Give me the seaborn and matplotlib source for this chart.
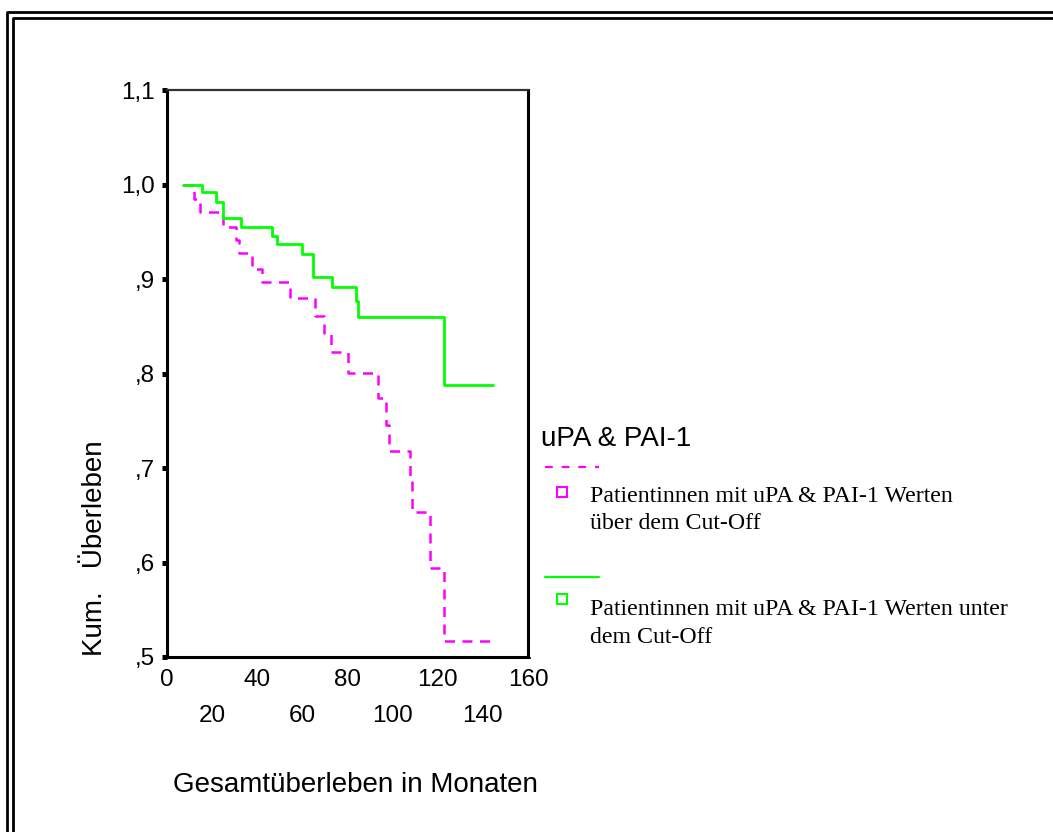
import pandas as pd
import matplotlib
matplotlib.use("Agg")
import matplotlib.pyplot as plt
from matplotlib.lines import Line2D
import seaborn as sns

# === DATA ===
months_ueber = [7, 12, 14.6, 25, 30.6, 32.1, 37.5, 41.9, 54.5, 65.8, 69.4,
                72.9, 80.3, 93.3, 97, 98.5, 107.7, 108.4, 116.6, 122.8, 143.2]
surv_ueber = [1.0, 0.985, 0.971, 0.955, 0.941, 0.928, 0.911, 0.897, 0.880,
              0.861, 0.843, 0.823, 0.801, 0.774, 0.745, 0.718, 0.685, 0.653,
              0.594, 0.517, 0.517]

months_unter = [7, 15.5, 21.6, 24.9, 33, 46.4, 48.9, 59.7, 64.8, 73, 83.8,
                84.7, 122.8, 144.6]
surv_unter = [1.0, 0.992, 0.981, 0.965, 0.955, 0.946, 0.937, 0.926, 0.902,
              0.892, 0.877, 0.860, 0.788, 0.788]

yticks = [0.5, 0.6, 0.7, 0.8, 0.9, 1.0, 1.1]
ytick_labels = [",5", ",6", ",7", ",8", ",9", "1,0", "1,1"]
xticks_row1 = [0, 40, 80, 120, 160]
xticks_row2 = [20, 60, 100, 140]

legend_title = "uPA & PAI-1"
lines_ueber = ["Patientinnen mit uPA & PAI-1 Werten", "über dem Cut-Off"]
lines_unter = ["Patientinnen mit uPA & PAI-1 Werten unter", "dem Cut-Off"]

df = pd.concat([
    pd.DataFrame({"Monate": months_ueber, "Ueberleben": surv_ueber, "Gruppe": "ueber"}),
    pd.DataFrame({"Monate": months_unter, "Ueberleben": surv_unter, "Gruppe": "unter"}),
])

PINK = "#ff00ff"
GREEN = "#00ff00"

sns.set_style("white")
plt.rcParams["font.family"] = ["Liberation Sans", "DejaVu Sans"]
for key in ["text.color", "axes.labelcolor", "xtick.color", "ytick.color"]:
    plt.rcParams[key] = "black"

W, H = 1053, 832
fig = plt.figure(figsize=(W / 100, H / 100), dpi=100)
ax = fig.add_axes([167 / W, 1 - 657 / H, 361 / W, 567 / H])


def px(x, y):
    return x / W, 1 - y / H


# === CURVES ===
sns.lineplot(data=df[df["Gruppe"] == "ueber"], x="Monate", y="Ueberleben",
             estimator=None, drawstyle="steps-post", color=PINK, lw=1.8,
             linestyle=(0, (4, 3)), ax=ax, legend=False)
sns.lineplot(data=df[df["Gruppe"] == "unter"], x="Monate", y="Ueberleben",
             estimator=None, drawstyle="steps-post", color=GREEN, lw=2.0,
             ax=ax, legend=False)

# === AXES ===
ax.set_xlim(0, 160)
ax.set_ylim(0.5, 1.1)
ax.set_yticks(yticks)
ax.set_yticklabels(ytick_labels)
ax.set_xticks(xticks_row1)
ax.set_xticklabels([str(v) for v in xticks_row1])
ax.set_xticks(xticks_row2, minor=True)
ax.set_xticklabels([str(v) for v in xticks_row2], minor=True)

ax.tick_params(axis="y", direction="out", length=3.6, width=3.6,
               labelsize=17.5, pad=5, left=True, color="black")
ax.tick_params(axis="x", which="both", direction="out", length=1.5, width=4,
               labelsize=17.5, bottom=True, color="black")
ax.tick_params(axis="x", which="major", pad=7)
ax.tick_params(axis="x", which="minor", pad=33)

for side in ["left", "bottom", "right"]:
    ax.spines[side].set_linewidth(2.2)
    ax.spines[side].set_color("black")
ax.spines["top"].set_linewidth(1.6)
ax.spines["top"].set_color("#333333")

ax.set_xlabel("Gesamtüberleben in Monaten", fontsize=20)
ax.xaxis.set_label_coords((355 - 167) / 361, (657 - 785) / 567)
ax.xaxis.label.set_va("center")
ax.set_ylabel("Kum.   Überleben", fontsize=20)
ax.yaxis.set_label_coords((95 - 167) / 361, (657 - 548) / 567)
ax.yaxis.label.set_va("center")

# === LEGEND (SPSS style) ===
fig.text(*px(541, 446), legend_title, fontsize=20, ha="left", va="baseline")
fig.add_artist(Line2D([545 / W, 599 / W], [1 - 466.7 / H] * 2, color=PINK,
                      lw=1.6, linestyle=(0, (3.5, 4)), transform=fig.transFigure))
fig.add_artist(Line2D([545 / W, 599 / W], [1 - 576.7 / H] * 2, color=GREEN,
                      lw=1.6, transform=fig.transFigure))
for yy, col in [(492, PINK), (599, GREEN)]:
    fig.add_artist(Line2D([561.5 / W], [1 - yy / H], marker="s", ms=6.5,
                          mfc="white", mec=col, mew=1.5, transform=fig.transFigure))
for base, lines in [(501.7, lines_ueber), (615, lines_unter)]:
    for i, line in enumerate(lines):
        fig.text(*px(590, base + 27.6 * i), line, fontsize=17.2,
                 family=["Liberation Serif"], ha="left", va="baseline")

# === FRAME (double line, top and left) ===
for off in [7, 13]:
    fig.add_artist(Line2D([off / W, off / W, 1], [0, 1 - (off + 5) / H, 1 - (off + 5) / H],
                          color="black", lw=2.0, transform=fig.transFigure))

fig.savefig("out.png", dpi=100)
